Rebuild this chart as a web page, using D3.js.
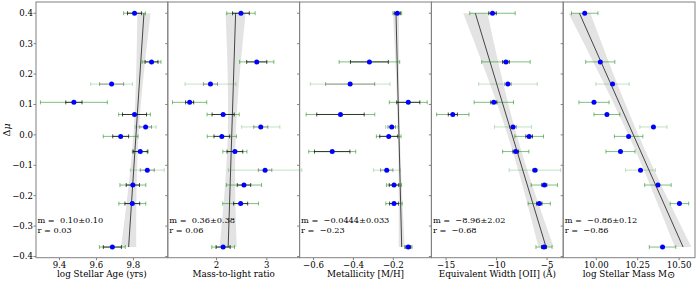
<!DOCTYPE html>
<html>
<head>
<meta charset="utf-8">
<script src="https://cdn.jsdelivr.net/npm/d3@7"></script>
<style>
  body { margin: 0; background: #fff; }
  svg { display: block; font-family: "DejaVu Serif", serif; }
  text { white-space: pre; }
</style>
</head>
<body>
<svg id="chart" width="697" height="283"></svg>
<script>
// shared y values (delta mu) and which points are drawn faint
const dmu = [0.40, 0.24, 0.167, 0.107, 0.067, 0.026, -0.005, -0.055, -0.116, -0.165, -0.226, -0.369]
const faint = [0, 0, 1, 0, 0, 1, 0, 0, 1, 0, 0, 0]

// log stellar age
const age = [9.806, 9.898, 9.682, 9.478, 9.806, 9.866, 9.731, 9.837, 9.875, 9.797, 9.794, 9.686]
const ageErrOut = [0.059, 0.051, 0.113, 0.181, 0.086, 0.057, 0.094, 0.043, 0.092, 0.070, 0.073, 0.070]
const ageErrIn = [0.038, 0.035, 0.065, 0.044, 0.065, 0.032, 0.043, 0.038, 0.038, 0.036, 0.040, 0.049]
const ageFit = [9.857, 9.774]          // x at top / bottom of the data range
const ageBand = [0.036, 0.014, 0.041]  // half widths top / mid / bottom

// mass-to-light ratio
const ml = [2.486, 2.80, 1.88, 1.466, 2.132, 2.88, 2.106, 2.366, 2.966, 2.546, 2.48, 2.132]
const mlErrOut = [0.283, 0.34, 0.506, 0.34, 0.32, 0.38, 0.29, 0.24, 0.73, 0.35, 0.356, 0.226]
const mlErrIn = [0.166, 0.20, 0.14, 0.08, 0.22, 0.14, 0.156, 0.156, 0.134, 0.134, 0.14, 0.14]
const mlFit = [2.38, 2.232]
const mlBand = [0.20, 0.08, 0.17]

// metallicity
const met = [-0.18, -0.32, -0.4165, -0.125, -0.465, -0.208, -0.223, -0.5065, -0.233, -0.1965, -0.1965, -0.125]
const metErrOut = [0.022, 0.152, 0.20, 0.095, 0.172, 0.031, 0.062, 0.118, 0.067, 0.038, 0.041, 0.019]
const metErrIn = [0.015, 0.095, 0.123, 0.058, 0.119, 0.019, 0.045, 0.089, 0.031, 0.024, 0.022, 0.012]
const metFit = [-0.1865, -0.158]
const metBand = [0.015, 0.005, 0.015]

// equivalent width [OII]
const ew = [-10.4, -9.07, -8.87, -10.27, -14.33, -8.37, -6.77, -8.1, -6.2, -5.27, -5.77, -5.3]
const ewErrOut = [2.25, 2.4, 2.9, 1.95, 1.6, 1.83, 1.42, 1.3, 2.55, 1.3, 1.1, 0.8]
const ewErrIn = [0.37, 0.33, 0.32, 0.30, 0.45, 0.33, 0.33, 0.28, 0.22, 0.25, 0.27, 0.25]
const ewFit = [-12.1, -5.1]
const ewBand = [1.2, 0.45, 0.75]

// log stellar mass
const mass = [9.93, 10.024, 10.098, 9.986, 10.064, 10.345, 10.195, 10.146, 10.267, 10.372, 10.502, 10.40]
const massErrOut = [0.08, 0.088, 0.101, 0.091, 0.078, 0.082, 0.086, 0.088, 0.09, 0.08, 0.056, 0.08]
const massFit = [9.898, 10.524]
const massBand = [0.066, 0.03, 0.05]

const yTicks = [-0.4, -0.3, -0.2, -0.1, 0.0, 0.1, 0.2, 0.3, 0.4]

const panels = [
  { x: age, out: ageErrOut, inn: ageErrIn, fit: ageFit, band: ageBand,
    domain: [9.273, 9.986], ticks: [9.4, 9.6, 9.8], fmt: '.1f',
    label: 'log Stellar Age (yrs)', m: 'm =  0.10±0.10', r: 'r = 0.03' },
  { x: ml, out: mlErrOut, inn: mlErrIn, fit: mlFit, band: mlBand,
    domain: [1.032, 3.652], ticks: [2, 3], fmt: 'd',
    label: 'Mass-to-light ratio', m: 'm =  0.36±0.38', r: 'r = 0.06' },
  { x: met, out: metErrOut, inn: metErrIn, fit: metFit, band: metBand,
    domain: [-0.67, -0.009], ticks: [-0.6, -0.4, -0.2], fmt: '.1f',
    label: 'Metallicity [M/H]', m: 'm =  \u22120.0444±0.033', r: 'r =  \u22120.23' },
  { x: ew, out: ewErrOut, inn: ewErrIn, fit: ewFit, band: ewBand,
    domain: [-16.45, -3.4], ticks: [-15, -10, -5], fmt: 'd',
    label: 'Equivalent Width [OII] (Å)', m: 'm =  \u22128.96±2.02', r: 'r =  \u22120.68' },
  { x: mass, out: massErrOut, inn: null, fit: massFit, band: massBand,
    domain: [9.80, 10.596], ticks: [10.0, 10.25, 10.5], fmt: '.2f',
    label: 'log Stellar Mass M', m: 'm =  \u22120.86±0.12', r: 'r =  \u22120.86' }
]

const W = 697, H = 283
const margin = { top: 2, right: 2, bottom: 25.3, left: 36 }
const pw = (W - margin.left - margin.right) / panels.length
const ph = H - margin.top - margin.bottom

const svg = d3.select('#chart')

const y = d3.scaleLinear().domain([-0.404, 0.437]).range([margin.top + ph, margin.top])
const yTop = d3.max(dmu), yBot = d3.min(dmu), yMid = d3.mean(dmu)

const spine = '#808080'
const green = '#008000'

panels.forEach((p, k) => {
  const x0 = margin.left + k * pw
  const x = d3.scaleLinear().domain(p.domain).range([x0, x0 + pw])
  const g = svg.append('g')

  // confidence band
  const cAt = t => p.fit[0] + (p.fit[1] - p.fit[0]) * (yTop - t) / (yTop - yBot)
  const bandPts = [
    { y: yTop, c: p.fit[0], h: p.band[0] },
    { y: yMid, c: cAt(yMid), h: p.band[1] },
    { y: yBot, c: p.fit[1], h: p.band[2] }
  ]
  g.append('path')
    .datum(bandPts)
    .attr('d', d3.area()
      .y(d => y(d.y))
      .x0(d => x(d.c - d.h))
      .x1(d => x(d.c + d.h))
      .curve(d3.curveNatural))
    .attr('fill', '#000')
    .attr('fill-opacity', 0.11)

  // fit line
  g.append('line')
    .attr('x1', x(p.fit[0])).attr('y1', y(yTop))
    .attr('x2', x(p.fit[1])).attr('y2', y(yBot))
    .attr('stroke', '#333')
    .attr('stroke-width', 0.9)

  // error bars
  const bars = (errs, colour, alphaOn, alphaOff) => {
    const eb = g.append('g')
      .selectAll('g')
      .data(p.x.map((v, i) => ({ v, e: errs[i], y: dmu[i], f: faint[i] })))
      .enter().append('g')
      .attr('stroke', colour)
      .attr('stroke-width', 1)
      .attr('stroke-opacity', d => d.f ? alphaOff : alphaOn)
    eb.append('path')
      .attr('d', d => {
        const a = x(d.v - d.e), b = x(d.v + d.e), yy = y(d.y)
        return `M${a},${yy}H${b}M${a},${yy - 2}V${yy + 2}M${b},${yy - 2}V${yy + 2}`
      })
      .attr('fill', 'none')
  }
  bars(p.out, green, 0.5, 0.24)
  if (p.inn) bars(p.inn, '#000', 0.7, 0.35)

  // points
  g.append('g')
    .selectAll('circle')
    .data(p.x)
    .enter().append('circle')
    .attr('cx', d => x(d))
    .attr('cy', (d, i) => y(dmu[i]))
    .attr('r', 2.5)
    .attr('fill', '#0000ff')

  // spines
  g.append('rect')
    .attr('x', x0).attr('y', margin.top)
    .attr('width', pw).attr('height', ph)
    .attr('fill', 'none')
    .attr('stroke', spine)
    .attr('stroke-width', 1)

  // x ticks
  const xt = g.append('g').selectAll('g').data(p.ticks).enter().append('g')
  xt.append('line')
    .attr('x1', d => x(d)).attr('x2', d => x(d))
    .attr('y1', margin.top + ph).attr('y2', margin.top + ph + 2.5)
    .attr('stroke', spine)
  xt.append('text')
    .attr('x', d => x(d))
    .attr('y', margin.top + ph + 10.5)
    .attr('text-anchor', 'middle')
    .attr('font-size', 8.6)
    .attr('fill', '#000')
    .text(d => d3.format(p.fmt)(d))

  // y ticks on each left spine
  g.append('g').selectAll('line').data(yTicks).enter().append('line')
    .attr('x1', x0 - 2.5).attr('x2', x0)
    .attr('y1', d => y(d)).attr('y2', d => y(d))
    .attr('stroke', spine)

  // x label
  const lab = g.append('text')
    .attr('x', x0 + pw / 2)
    .attr('y', 277)
    .attr('text-anchor', 'middle')
    .attr('font-size', 8.8)
    .text(p.label)
  if (k === 4) lab.append('tspan').attr('font-size', 10).attr('dy', 1).text('⊙')

  // fit annotation
  g.append('text')
    .attr('x', x0 + 1.5).attr('y', 222.5)
    .attr('font-size', 8.2)
    .text(p.m)
  g.append('text')
    .attr('x', x0 + 1.5).attr('y', 232.5)
    .attr('font-size', 8.2)
    .text(p.r)
})

// y tick labels on the first panel
svg.append('g').selectAll('text').data(yTicks).enter().append('text')
  .attr('x', margin.left - 3)
  .attr('y', d => y(d) + 3)
  .attr('text-anchor', 'end')
  .attr('font-size', 8.6)
  .text(d => d3.format('.1f')(d))

// y label
svg.append('text')
  .attr('transform', `translate(10,${margin.top + ph / 2}) rotate(-90)`)
  .attr('text-anchor', 'middle')
  .attr('font-size', 9.5)
  .text('Δ')
  .append('tspan').attr('font-style', 'italic').text('μ')
</script>
</body>
</html>
